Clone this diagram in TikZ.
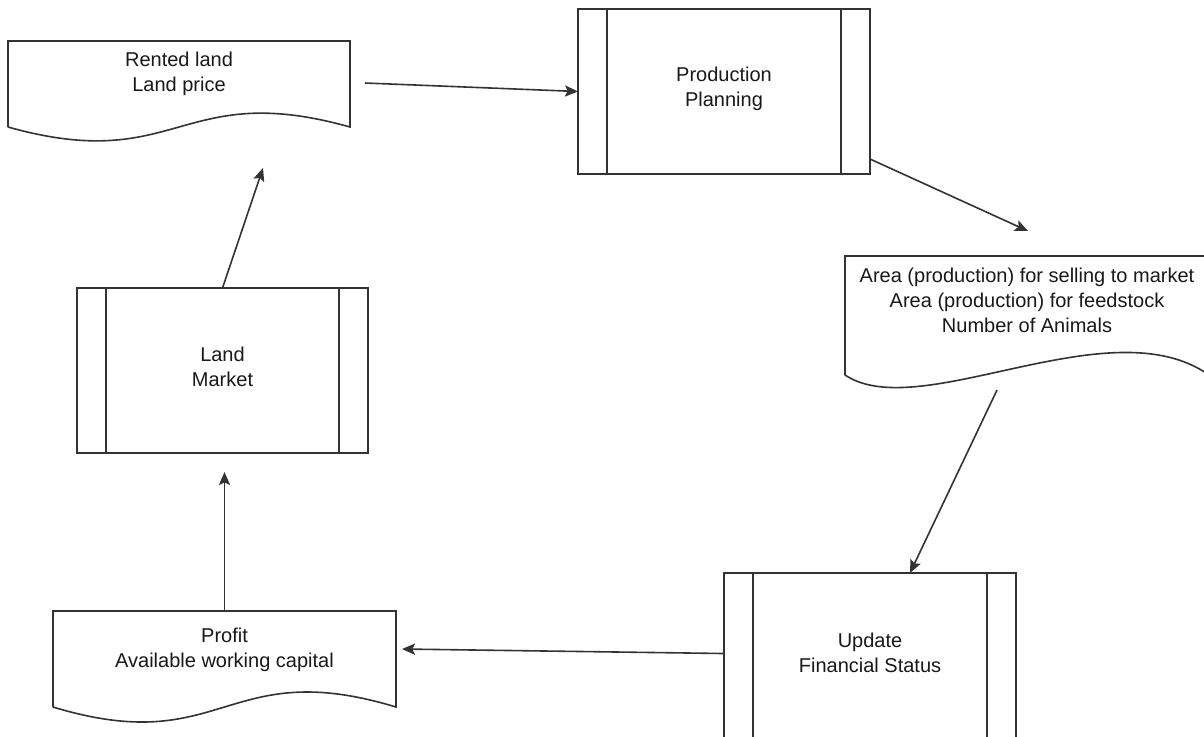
\documentclass[tikz,border=0pt]{standalone}
\usepackage{fontspec}
\setmainfont{Liberation Sans}
\usetikzlibrary{arrows.meta,calc}
\begin{document}
\begin{tikzpicture}[x=0.5pt,y=-0.5pt,
  every node/.style={inner sep=0pt,outer sep=0pt},
  shapebox/.style={draw=none,rectangle},
  outline/.style={draw=black!80,line width=0.8pt},
  txt/.style={align=center,font=\fontsize{10}{12.5}\selectfont,text=black!90},
  arr/.style={draw=black!80,line width=0.8pt,-{Stealth[length=6.5pt,width=5.6pt,inset=1.3pt]}}]
\fill[white] (0,0) rectangle (1204,736);
\useasboundingbox (0,0) rectangle (1204,736);
\clip (0,0) rectangle (1204,736);
% node frames
\node[shapebox,minimum width=171pt,minimum height=43pt] (rl) at (179,84) {};
\node[shapebox,minimum width=146pt,minimum height=82.5pt] (pp) at (724,91.5) {};
\node[shapebox,minimum width=182pt,minimum height=59.5pt] (area) at (1027,315.5) {};
\node[shapebox,minimum width=146pt,minimum height=83.5pt] (upd) at (870,656.5) {};
\node[shapebox,minimum width=171.5pt,minimum height=48pt] (pf) at (224.5,659) {};
\node[shapebox,minimum width=145.5pt,minimum height=82.5pt] (lm) at (222.5,370.5) {};
% texts
\node[txt] (rltxt) at ($(rl.center)+(0,-10)$) {Rented land\\Land price};
\node[txt] (pptxt) at ($(pp.center)+(0,-3)$) {Production\\Planning};
\node[txt] (areatxt) at ($(area.center)+(0,-15)$) {Area (production) for selling to market\\Area (production) for feedstock\\Number of Animals};
\node[txt] (updtxt) at ($(upd.center)+(0,-4)$) {Update\\Financial Status};
\node[txt] (pftxt) at ($(pf.center)+(0,-9)$) {Profit\\Available working capital};
\node[txt] (lmtxt) at ($(lm.center)+(0,-4)$) {Land\\Market};
% process boxes
\foreach \n in {pp,upd,lm}{
  \draw[outline] (\n.north west) rectangle (\n.south east);
  \draw[outline] ([xshift=14.5pt]\n.north west) -- ([xshift=14.5pt]\n.south west);
  \draw[outline] ([xshift=-14.5pt]\n.north east) -- ([xshift=-14.5pt]\n.south east);
}
% document shapes
\draw[outline] (rl.south west) -- (rl.north west) -- (rl.north east) -- (rl.south east)
  .. controls ($(rl.south)+(0,-48)$) and ($(rl.south)+(0,48)$) .. (rl.south west);
\draw[outline] (pf.south west) -- (pf.north west) -- (pf.north east) -- (pf.south east)
  .. controls ($(pf.south)+(0,-52)$) and ($(pf.south)+(0,52)$) .. (pf.south west);
\draw[outline] (area.south west) -- (area.north west) -- (area.north east) -- (area.south east)
  .. controls ($(area.south)+(83,-70)$) and ($(area.south)+(-107,50)$) .. (area.south west);
% connectors
\coordinate (c1) at ($(rl.east)+(15,-1)$);
\draw[arr] (c1) -- (pp.west);
\coordinate (c2s) at ($(pp.south east)+(0,-15)$);
\coordinate (c2e) at ($(area.north)+(1,-25)$);
\draw[arr] (c2s) -- (c2e);
\coordinate (c3s) at ($(area.south)+(-30,15)$);
\coordinate (c3e) at ($(upd.north west)+(186,0)$);
\draw[arr] (c3s) -- (c3e);
\coordinate (c4s) at ($(upd.west)+(0,-3)$);
\coordinate (c4e) at ($(pf.east)+(6,-10)$);
\draw[arr] (c4s) -- (c4e);
\coordinate (c5e) at ($(lm.south)+(0,19)$);
\draw[arr] (pf.north) -- (pf.north |- c5e);
\coordinate (c6e) at ($(rl.south)+(84,41)$);
\draw[arr] (lm.north) -- (c6e);
\end{tikzpicture}
\end{document}
